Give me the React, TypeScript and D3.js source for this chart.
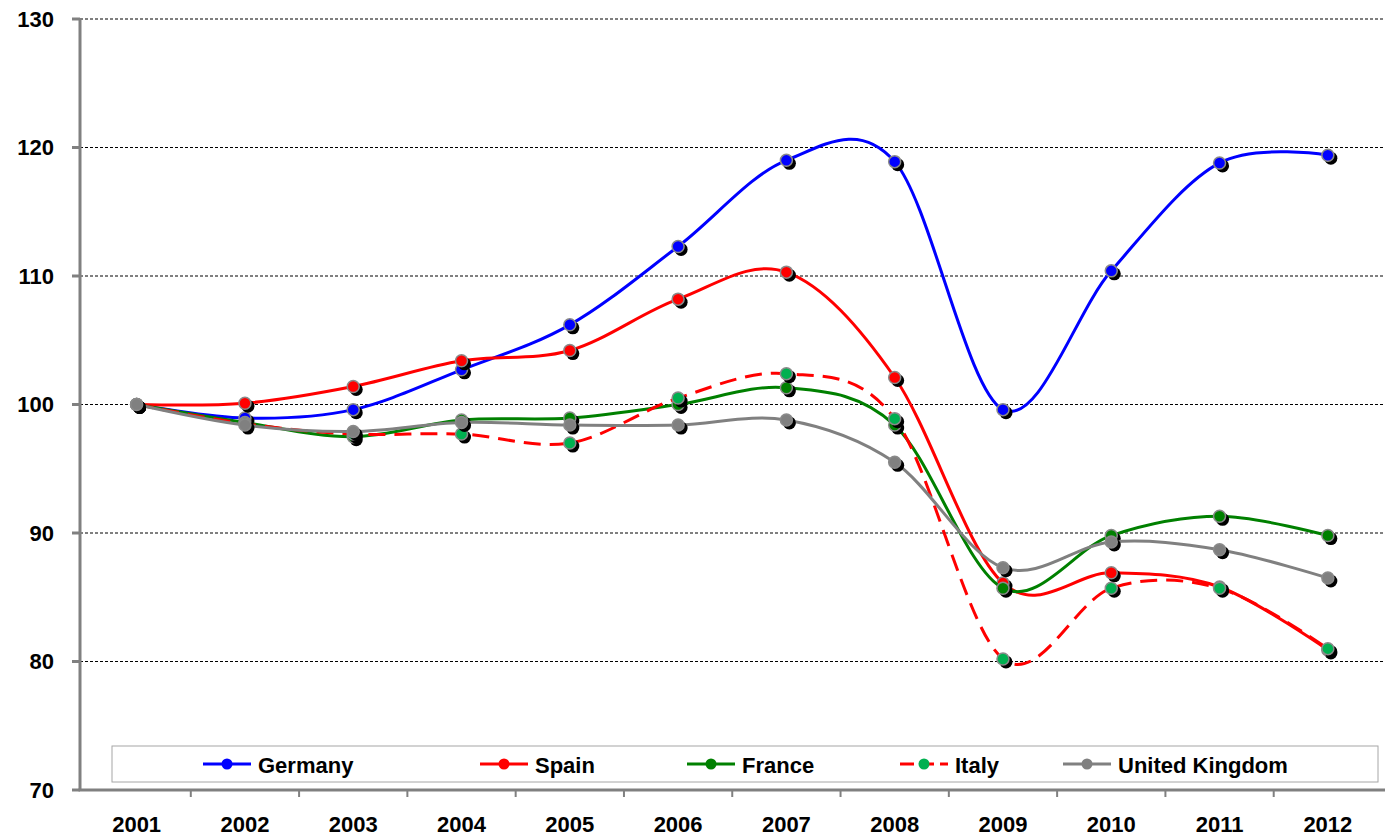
import React from "react";
import * as d3 from "d3";

const years = ["2001","2002","2003","2004","2005","2006","2007","2008","2009","2010","2011","2012"];
const germany = [100, 98.95, 99.6, 102.7, 106.2, 112.3, 119.0, 118.9, 99.6, 110.4, 118.8, 119.4];
const spain = [100, 100.1, 101.4, 103.4, 104.2, 108.2, 110.3, 102.1, 86.1, 86.9, 85.8, 80.9];
const france = [100, 98.6, 97.5, 98.8, 98.95, 100.0, 101.3, 98.4, 85.7, 89.8, 91.3, 89.8];
const italy = [100, 98.5, 97.7, 97.7, 97.0, 100.5, 102.4, 98.9, 80.2, 85.7, 85.7, 81.0];
const uk = [100, 98.4, 97.9, 98.6, 98.4, 98.4, 98.8, 95.5, 87.3, 89.3, 88.7, 86.5];
const yTicks = [70, 80, 90, 100, 110, 120, 130];

const series = [
  { name: "Germany", values: germany, line: "#0000ff", marker: "#0000ff", dash: "" },
  { name: "Spain", values: spain, line: "#ff0000", marker: "#ff0000", dash: "" },
  { name: "France", values: france, line: "#008000", marker: "#008000", dash: "" },
  { name: "Italy", values: italy, line: "#ff0000", marker: "#00b050", dash: "17,9" },
  { name: "United Kingdom", values: uk, line: "#808080", marker: "#808080", dash: "" },
];

const legendX = [203, 480, 687, 900, 1063];

export default function App() {
  const W = 1392, H = 836;
  const left = 80, right = 1385, top = 19, bottom = 790;
  const x = d3.scaleBand().domain(years).range([82.5, 1382]);
  const cx = (d: string) => (x(d) as number) + x.bandwidth() / 2;
  const y = d3.scaleLinear().domain([70, 130]).range([bottom, top]);
  const font = "'Liberation Sans', Arial, sans-serif";
  const lineGen = d3
    .line<number>()
    .x((_, i) => cx(years[i]))
    .y((v) => y(v))
    .curve(d3.curveCardinal.tension(0));
  const boundaries = years.map((yr) => x(yr) as number).concat([x.range()[1]]);

  return (
    <svg width={W} height={H} style={{ position: "absolute", left: 0, top: 0, background: "#fff" }}>
      {yTicks.filter((t) => t > 70).map((t) => (
        <line key={"g" + t} x1={left} x2={right} y1={y(t)} y2={y(t)} stroke="#000" strokeWidth={1} strokeDasharray="3,2" />
      ))}
      {yTicks.map((t) => (
        <g key={"yt" + t}>
          <line x1={72} x2={left} y1={y(t)} y2={y(t)} stroke="#808080" strokeWidth={3} />
          <text x={54} y={y(t)} textAnchor="end" dominantBaseline="central" fontFamily={font} fontWeight="bold" fontSize={22} fill="#000">{t}</text>
        </g>
      ))}
      <line x1={left} x2={left} y1={top} y2={bottom} stroke="#808080" strokeWidth={3} />
      {boundaries.slice(1, -1).map((b, i) => (
        <line key={"xt" + i} x1={b} x2={b} y1={bottom} y2={bottom + 7} stroke="#808080" strokeWidth={2} />
      ))}
      {years.map((yr) => (
        <text key={"xl" + yr} x={cx(yr)} y={832} textAnchor="middle" fontFamily={font} fontWeight="bold" fontSize={22} fill="#000">{yr}</text>
      ))}
      {series.map((s) => (
        <g key={s.name}>
          <path d={lineGen(s.values) as string} fill="none" stroke={s.line} strokeWidth={3} strokeDasharray={s.dash || undefined} />
          {s.values.map((v, i) => (
            <g key={i}>
              <circle cx={cx(years[i]) + 3} cy={y(v) + 3} r={6.5} fill="#000" />
              <circle cx={cx(years[i])} cy={y(v)} r={6} fill={s.marker} stroke="#8a8a8a" strokeWidth={1.5} />
            </g>
          ))}
        </g>
      ))}
      <line x1={left - 1.5} x2={right} y1={bottom} y2={bottom} stroke="#808080" strokeWidth={3} />
      <rect x={112} y={746} width={1266} height={36} fill="#fff" stroke="#a6a6a6" strokeWidth={1} />
      {series.map((s, i) => (
        <g key={"lg" + s.name}>
          <line x1={legendX[i]} x2={legendX[i] + 48} y1={764} y2={764} stroke={s.line} strokeWidth={3} strokeDasharray={s.dash ? "14,6" : undefined} />
          <circle cx={legendX[i] + 24} cy={764} r={5.5} fill={s.marker} />
          <text x={legendX[i] + 55} y={765} dominantBaseline="central" fontFamily={font} fontWeight="bold" fontSize={22} fill="#000">{s.name}</text>
        </g>
      ))}
    </svg>
  );
}
